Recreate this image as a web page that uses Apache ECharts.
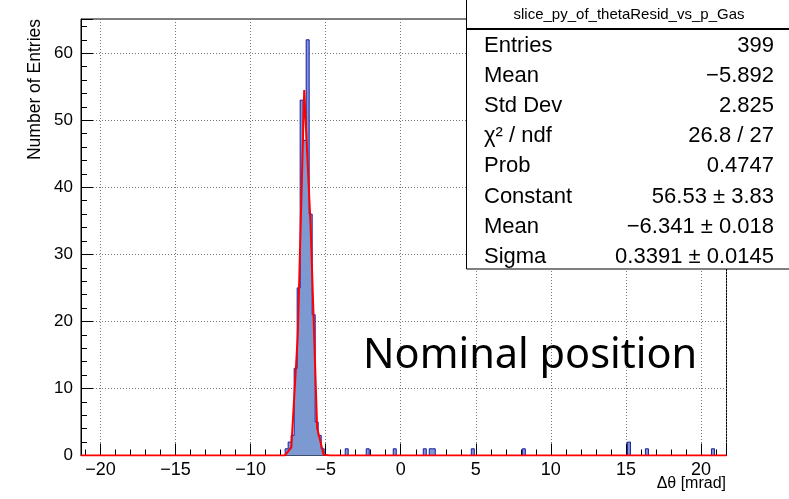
<!DOCTYPE html>
<html>
<head>
<meta charset="utf-8">
<script src="https://cdn.jsdelivr.net/npm/echarts@6/dist/echarts.min.js"></script>
<style>
  html, body { margin: 0; padding: 0; background: #fff; }
  #chart { width: 789px; height: 499px; }
</style>
</head>
<body>
<div id="chart"></div>
<script>
// ---- data ----
const xMin = -21.3;
const xMax = 21.7;
const binWidth = 0.2;
const yMax = 65.1;

// non-empty bins of the histogram (bin centres and counts)
const peakCenters = [-7.6, -7.4, -7.2, -7.0, -6.8, -6.6, -6.4, -6.2, -6.0, -5.8, -5.6, -5.4, -5.2];
const peakCounts  = [1, 2, 3, 13, 25, 53, 47, 62, 36, 21, 5, 3, 1];
const outlierCenters = [-3.6, -2.2, -0.4, 1.6, 2.0, 2.2, 4.8, 8.2, 15.2, 16.4, 20.8];
const outlierCounts  = [1, 1, 1, 1, 1, 1, 1, 1, 2, 1, 1];

// fitted gaussian as drawn (polyline vertices)
const fitX = [-21.3, -7.72, -7.29, -6.86, -6.43, -6.00, -5.57, -5.14, -4.71, 21.7];
const fitY = [0, 0.0, 1.2, 17.9, 54.5, 34.0, 4.1, 0.1, 0.0, 0];

const statsTitle = 'slice_py_of_thetaResid_vs_p_Gas';
const statsLabels = ['Entries', 'Mean', 'Std Dev', 'χ² / ndf', 'Prob', 'Constant', 'Mean', 'Sigma'];
const statsValues = ['399', '\u22125.892', '2.825', '26.8 / 27', '0.4747', '56.53 \u00b1 3.83', '\u22126.341 \u00b1 0.018', '0.3391 \u00b1 0.0145'];

const xTitle = '\u0394\u03b8 [mrad]';
const yTitle = 'Number of Entries';
const annotation = 'Nominal position';

// ---- build histogram ----
const nBins = Math.round((xMax - xMin) / binWidth);
const counts = new Array(nBins).fill(0);
function addBins(centers, cnts) {
  centers.forEach((c, i) => {
    const idx = Math.round((c - xMin) / binWidth - 0.5);
    if (idx >= 0 && idx < nBins) counts[idx] += cnts[i];
  });
}
addBins(peakCenters, peakCounts);
addBins(outlierCenters, outlierCounts);
const histData = [];
for (let i = 0; i < nBins; i++) histData.push([+(xMin + i * binWidth).toFixed(4), counts[i]]);
histData.push([xMax, counts[nBins - 1]]);
const fitData = fitX.map((x, i) => [x, fitY[i]]);

const FONT = 'Liberation Sans, Arial, Helvetica, sans-serif';
const fmt = v => (v < 0 ? '\u2212' + Math.abs(v) : String(v));

const chart = echarts.init(document.getElementById('chart'), null, { renderer: 'canvas' });

// stats box graphics
const gfx = [];
const boxL = 466.5;
gfx.push({ type: 'rect', shape: { x: boxL, y: -2, width: 340, height: 271 }, style: { fill: '#fff', stroke: '#000', lineWidth: 1 }, z: 100 });
gfx.push({ type: 'line', shape: { x1: boxL, y1: 29, x2: 800, y2: 29 }, style: { stroke: '#000', lineWidth: 2 }, z: 101 });
gfx.push({ type: 'text', x: 629, y: 15, style: { text: statsTitle, font: '15px ' + FONT, fill: '#000', textAlign: 'center', textVerticalAlign: 'middle' }, z: 102 });
statsLabels.forEach((lab, i) => {
  const y = 46 + i * 30.1;
  gfx.push({ type: 'text', x: 484, y: y, style: { text: lab, font: '22px ' + FONT, fill: '#000', textAlign: 'left', textVerticalAlign: 'middle' }, z: 102 });
  gfx.push({ type: 'text', x: 774, y: y, style: { text: statsValues[i], font: '22px ' + FONT, fill: '#000', textAlign: 'right', textVerticalAlign: 'middle' }, z: 102 });
});
gfx.push({ type: 'text', x: 363, y: 356, style: { text: annotation, font: '41.5px "Noto Sans", sans-serif', fill: '#000', textAlign: 'left', textVerticalAlign: 'middle' }, z: 50 });
gfx.push({ type: 'text', x: 726, y: 484, style: { text: xTitle, font: '16px ' + FONT, fill: '#000', textAlign: 'right', textVerticalAlign: 'middle' }, z: 50 });
gfx.push({ type: 'text', x: 35, y: 19, rotation: Math.PI / 2, style: { text: yTitle, font: '17.5px ' + FONT, fill: '#000', textAlign: 'right', textVerticalAlign: 'middle' }, z: 50 });

function axisCommon() {
  return {
    axisLine: { show: true, onZero: false, lineStyle: { color: '#000', width: 1 } },
    axisTick: { show: true, inside: true, length: 12, lineStyle: { color: '#000', width: 1 } },
    minorTick: { show: true, splitNumber: 5, length: 6, lineStyle: { color: '#000', width: 1 } },
    splitLine: { show: true, lineStyle: { color: '#777', width: 1, type: [1, 2] } },
    minorSplitLine: { show: false }
  };
}

chart.setOption({
  animation: false,
  backgroundColor: '#fff',
  grid: { left: 81, right: 62.5, top: 19, bottom: 43.5, show: true, borderColor: '#000', borderWidth: 1, backgroundColor: 'transparent', containLabel: false },
  xAxis: Object.assign({
    type: 'value', min: xMin, max: xMax, minInterval: 5, maxInterval: 5, splitNumber: 8,
    axisLabel: { show: true, margin: 6, fontSize: 18, fontFamily: FONT, color: '#000',
      showMinLabel: false, showMaxLabel: false,
      formatter: v => (Math.abs(v / 5 - Math.round(v / 5)) < 1e-6 ? fmt(v) : '') }
  }, axisCommon()),
  yAxis: Object.assign({
    type: 'value', min: 0, max: yMax, interval: 10,
    axisLabel: { show: true, margin: 8, fontSize: 17, fontFamily: FONT, color: '#000',
      formatter: v => (Math.abs(v / 10 - Math.round(v / 10)) < 1e-6 ? fmt(v) : '') }
  }, axisCommon()),
  series: [
    { type: 'line', data: histData, step: 'end', showSymbol: false, symbol: 'none',
      lineStyle: { color: '#1c1ca6', width: 1 }, areaStyle: { color: '#7d99d1', opacity: 1 }, z: 2, silent: true },
    { type: 'line', data: fitData, showSymbol: false, symbol: 'none',
      lineStyle: { color: '#ff0000', width: 2 }, z: 3, silent: true }
  ],
  graphic: gfx
});
</script>
</body>
</html>
